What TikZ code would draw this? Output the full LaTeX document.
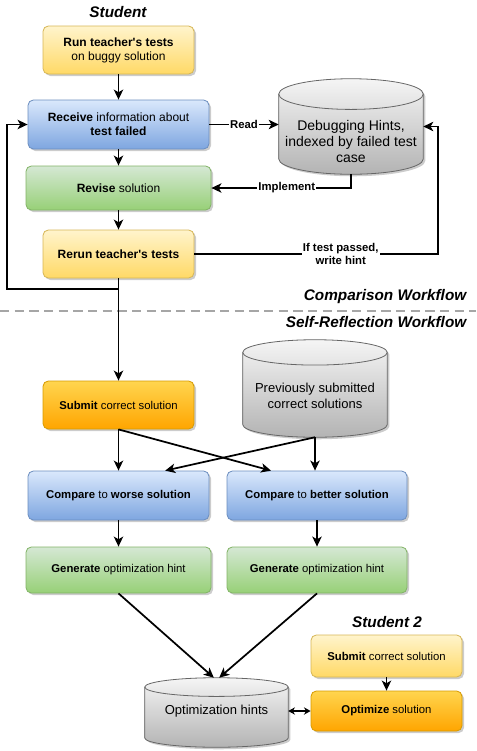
\documentclass[tikz,border=0pt]{standalone}
\usepackage{fontspec}
\setmainfont{Liberation Sans}[Ligatures=TeXOff]
\usetikzlibrary{arrows.meta,positioning,calc,shadows}

\definecolor{ylwtop}{HTML}{FFF4CC}
\definecolor{ylwbot}{HTML}{FFD966}
\definecolor{ylwline}{HTML}{D6B656}
\definecolor{blutop}{HTML}{DAE8FC}
\definecolor{blubot}{HTML}{7EA6E0}
\definecolor{bluline}{HTML}{6C8EBF}
\definecolor{grntop}{HTML}{D5E8D4}
\definecolor{grnbot}{HTML}{97D077}
\definecolor{grnline}{HTML}{82B366}
\definecolor{orgtop}{HTML}{FFD54F}
\definecolor{orgbot}{HTML}{FFA500}
\definecolor{orgline}{HTML}{D79B00}
\definecolor{dbtop}{HTML}{F5F5F5}
\definecolor{dbbot}{HTML}{B3B3B3}
\definecolor{dbline}{HTML}{666666}
\definecolor{sepgray}{HTML}{A6A6A6}

% cylinder drawn round the box of a node: #1 node, #2 half height of the ellipse
\newcommand\dbcyl[2]{%
  \path[top color=dbtop, bottom color=dbbot, draw=dbline, line width=0.6pt,
        drop shadow={shadow xshift=1.5pt, shadow yshift=-1.5pt, opacity=0.2, fill=black}]
    let \p1=(#1.north west), \p2=(#1.south east), \n1={(\x2-\x1)/2} in
    (\x1,\y1-#2) arc[start angle=180, end angle=0, x radius=\n1, y radius=#2]
    -- (\x2,\y2+#2) arc[start angle=0, end angle=-180, x radius=\n1, y radius=#2] -- cycle;
  \draw[dbline, line width=0.6pt]
    let \p1=(#1.north west), \p2=(#1.south east), \n1={(\x2-\x1)/2} in
    (\x1,\y1-#2) arc[start angle=180, end angle=360, x radius=\n1, y radius=#2];
}

\begin{document}
\begin{tikzpicture}[x=0.75pt, y=0.75pt,
    box/.style={rectangle, rounded corners=4pt, line width=0.6pt, align=center, inner sep=2pt,
      drop shadow={shadow xshift=1.5pt, shadow yshift=-1.5pt, opacity=0.2, fill=black}},
    ylw/.style={box, top color=ylwtop, bottom color=ylwbot, draw=ylwline},
    blu/.style={box, top color=blutop, bottom color=blubot, draw=bluline},
    grn/.style={box, top color=grntop, bottom color=grnbot, draw=grnline},
    org/.style={box, top color=orgtop, bottom color=orgbot, draw=orgline},
    upfont/.style={font=\fontsize{9}{10.5}\selectfont},
    lowfont/.style={font=\fontsize{8.5}{10}\selectfont},
    dbarea/.style={rectangle, inner sep=0pt},
    dbtext/.style={align=center, inner sep=1pt},
    flow/.style={-{Stealth[length=7.5pt, width=7pt, inset=2pt]}, line width=1.3pt},
    both/.style={{Stealth[length=5pt, width=5.5pt]}-{Stealth[length=5pt, width=5.5pt]}, line width=1.3pt},
    lbl/.style={fill=white, inner sep=1pt, align=center, font=\fontsize{8.5}{10}\selectfont\bfseries},
    title/.style={font=\fontsize{11.5}{13}\selectfont\bfseries\itshape}]
      % Sizes
      \def\narrow{113.25pt}
      \def\wide{135.75pt}
      \def\wider{138.75pt}
      \def\dbw{108pt}

      \useasboundingbox (0,0) rectangle (476,-751);

      % Student, debugging loop
      \node[title] (stud) at (118,-12) {Student};
      \node[ylw, upfont, minimum width=\narrow, minimum height=36pt] (run) at (118.5,-50)
        {\textbf{Run teacher's tests}\\on buggy solution};
      \node[blu, upfont, minimum width=\wide, minimum height=36.75pt] (recv) at (118.5,-124.5)
        {\textbf{Receive} information about\\\textbf{test failed}};
      \node[grn, upfont, minimum width=\wider, minimum height=33pt] (rev) at (118.5,-188)
        {\textbf{Revise} solution};
      \node[ylw, upfont, minimum width=\narrow, minimum height=36pt] (rerun) at (118.5,-254)
        {\textbf{Rerun teacher's tests}};

      \node[dbarea, minimum width=\dbw, minimum height=71.25pt] (dbg) at (351,-126.5) {};
      \dbcyl{dbg}{11.5pt}
      \node[dbtext, font=\fontsize{10.5}{12}\selectfont] (dbgtxt) at (351,-141)
        {Debugging Hints,\\indexed by failed test\\case};

      \draw[flow] (run) -- (recv);
      \draw[flow] (recv) -- (rev);
      \draw[flow] (rev) -- (rerun);
      \draw[flow] (recv.east) -- node[lbl] {Read} (recv.east -| dbg.west);
      \draw[flow] (dbg.south) |- node[lbl, pos=0.73] {Implement} (rev.east);
      \draw[flow] (rerun.east) -| node[lbl, pos=0.3] {If test passed,\\write hint}
        ([xshift=11.25pt]dbg.east) -- (dbg.east);

      \coordinate (loopcorner) at (7,-289);
      \draw[flow] (rerun.south) |- (loopcorner) |- (recv.west);

      % Workflow separator
      \draw[sepgray, line width=1.5pt, dash pattern=on 7pt off 4pt] (0,-311) -- (476,-311);
      \node[title, anchor=east] (cmpwf) at (471,-297) {Comparison Workflow};
      \node[title, anchor=east] (selfwf) at (471,-322) {Self-Reflection Workflow};

      % Self-reflection
      \node[org, lowfont, minimum width=\narrow, minimum height=36pt] (submit) at (118.5,-405)
        {\textbf{Submit} correct solution};
      \draw[flow] (rerun.south) -- (submit.north);

      \node[dbarea, minimum width=\dbw, minimum height=72.75pt] (prev) at (315,-388.5) {};
      \dbcyl{prev}{9.5pt}
      \node[dbtext, font=\fontsize{9.75}{12}\selectfont] (prevtxt) at (315,-396)
        {Previously submitted\\correct solutions};

      \node[blu, lowfont, minimum width=\wide, minimum height=36.75pt] (worse) at (118.5,-495.5)
        {\textbf{Compare} to \textbf{worse solution}};
      \node[blu, lowfont, minimum width=135pt, minimum height=36.75pt] (better) at (317,-495.5)
        {\textbf{Compare} to \textbf{better solution}};

      \draw[flow] (submit) -- (worse);
      \draw[flow] (submit.south) -- ([xshift=-34.5pt]better.north);
      \draw[flow] (prev.south) -- (prev.south |- better.north);
      \draw[flow] (prev.south) -- ([xshift=35pt]worse.north);

      \node[grn, lowfont, minimum width=\wider, minimum height=34.5pt] (genl) at (118.5,-570)
        {\textbf{Generate} optimization hint};
      \node[grn, lowfont, minimum width=135pt, minimum height=34.5pt] (genr) at (317,-570)
        {\textbf{Generate} optimization hint};
      \draw[flow] (worse) -- (genl);
      \draw[flow] (better) -- (genr);

      \node[dbarea, minimum width=107.25pt, minimum height=51.75pt] (opt) at (216.5,-712.5) {};
      \dbcyl{opt}{7pt}
      \node[dbtext, font=\fontsize{9.75}{12}\selectfont] (opttxt) at (216.5,-711) {Optimization hints};

      \draw[flow] (genl.south) -- ([xshift=-2pt]opt.north);
      \draw[flow] (genr.south) -- ([xshift=2pt]opt.north);

      % Student 2
      \node[title] (stud2) at (387,-622) {Student 2};
      \node[ylw, lowfont, minimum width=\narrow, minimum height=31.5pt] (submit2) at (386.5,-656)
        {\textbf{Submit} correct solution};
      \node[org, lowfont, minimum width=\narrow, minimum height=30pt] (optz) at (386.5,-711)
        {\textbf{Optimize} solution};
      \draw[flow] (submit2) -- (optz);
      \draw[both] (opt.east |- optz.west) -- (optz.west);
\end{tikzpicture}
\end{document}
